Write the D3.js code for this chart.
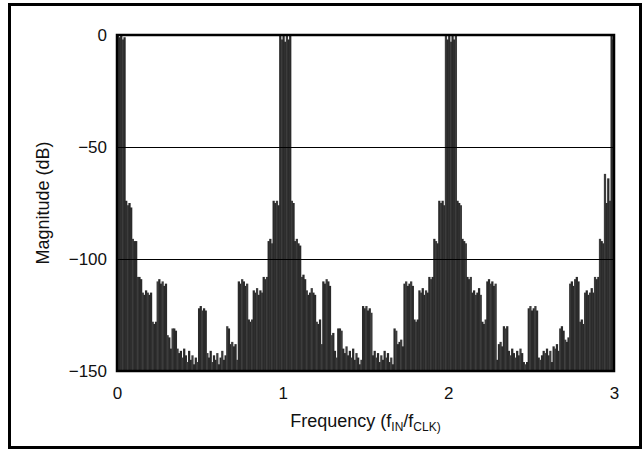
<!DOCTYPE html>
<html>
<head>
<meta charset="utf-8">
<script src="https://cdn.jsdelivr.net/npm/d3@7"></script>
<style>
  body { margin: 0; background: #fff; }
  text { font-family: "Liberation Sans", Arial, Helvetica, sans-serif; fill: #111; }
</style>
</head>
<body>
<div id="chart"></div>
<script>
var W = 642, H = 450;
var margin = {top: 35, right: 28, bottom: 79, left: 117}
  , width = 614 - margin.left
  , height = 371 - margin.top;

var freqStep = 0.01;
var magBand0 = [
  0, -1, 0, -2, -1, -74, -76, -75, -77, -91,
  -92, -92, -108, -108, -109, -115, -116, -114, -115, -116,
  -115, -128, -129, -128, -110, -109, -111, -110, -112, -111,
  -134, -135, -140, -131, -131, -132, -140, -142, -141, -144,
  -140, -143, -146, -141, -145, -143, -147, -144, -146, -122,
  -121, -123, -122, -123, -142, -144, -141, -146, -143, -145,
  -142, -147, -144, -141, -145, -143, -130, -131, -138, -137,
  -139, -138, -145, -110, -111, -109, -110, -112, -111, -127,
  -128, -127, -114, -115, -113, -116, -114, -115, -108, -109,
  -108, -92, -91, -93, -74, -75, -74, -76, 0, -2
];
var magBand1 = [
  0, -3, 0, -2, 0, -74, -75, -92, -91, -93,
  -94, -108, -107, -109, -114, -116, -115, -113, -115, -116,
  -128, -129, -127, -138, -110, -111, -109, -110, -112, -134,
  -133, -141, -144, -131, -131, -132, -140, -142, -139, -143,
  -141, -144, -140, -145, -142, -144, -147, -145, -121, -122,
  -121, -123, -122, -124, -143, -141, -144, -142, -146, -143,
  -145, -141, -144, -142, -146, -144, -147, -131, -132, -138,
  -137, -136, -139, -111, -110, -112, -111, -110, -112, -127,
  -128, -127, -114, -115, -113, -116, -114, -115, -108, -109,
  -108, -91, -92, -93, -74, -75, -74, -76, 0, -2
];
var magBand2 = [
  0, -3, 0, -2, 0, -74, -75, -76, -91, -92,
  -93, -108, -109, -108, -115, -114, -116, -115, -113, -116,
  -128, -129, -127, -110, -109, -111, -110, -112, -111, -145,
  -138, -137, -139, -130, -131, -130, -141, -143, -140, -142,
  -144, -141, -143, -140, -142, -146, -147, -146, -122, -121,
  -123, -122, -121, -123, -144, -145, -143, -141, -142, -140,
  -143, -141, -146, -139, -140, -138, -141, -131, -130, -132,
  -136, -137, -135, -111, -110, -112, -109, -108, -110, -128,
  -127, -129, -115, -114, -116, -115, -113, -115, -108, -109,
  -108, -91, -92, -93, -62, -75, -64, -74, 0, -2,
  0
];
var xTicks = [0, 1, 2, 3];
var yTicks = [0, -50, -100, -150];
var yGrid = [-50, -100];

var mags = magBand0.concat(magBand1, magBand2);
var data = mags.map(function(m, i) { return {f: i * freqStep, mag: m}; });

var xScale = d3.scaleLinear().domain([0, 3]).range([0, width]);
var yScale = d3.scaleLinear().domain([-150, 0]).range([height, 0]);

var svg = d3.select("#chart").append("svg")
    .attr("width", W)
    .attr("height", H);

// outer frame
svg.append("rect")
    .attr("x", 9.5).attr("y", 4.5)
    .attr("width", 631).attr("height", 443)
    .style("fill", "none").style("stroke", "#000").style("stroke-width", 3);

var g = svg.append("g")
    .attr("transform", "translate(" + margin.left + "," + margin.top + ")");

g.append("clipPath").attr("id", "plotclip")
  .append("rect").attr("x", 0).attr("y", 0).attr("width", width).attr("height", height);

// spectrum bars
var barW = xScale(freqStep) - xScale(0);
g.append("g").attr("clip-path", "url(#plotclip)")
  .selectAll("rect").data(data).enter().append("rect")
    .attr("x", function(d) { return xScale(d.f) - 0.2; })
    .attr("y", function(d) { return yScale(d.mag); })
    .attr("width", barW + 0.6)
    .attr("height", function(d) { return height - yScale(d.mag); })
    .style("fill", function(d, i) { return i % 3 ? "#2a2a2a" : "#3c3c3c"; });

// grid lines
g.selectAll(".grid").data(yGrid).enter().append("line")
    .attr("class", "grid")
    .attr("x1", 0).attr("x2", width)
    .attr("y1", function(d) { return yScale(d) + 0.5; })
    .attr("y2", function(d) { return yScale(d) + 0.5; })
    .style("stroke", "#000").style("stroke-width", 1)
    .style("shape-rendering", "crispEdges");

// plot frame
g.append("rect")
    .attr("x", 0).attr("y", 0).attr("width", width).attr("height", height)
    .style("fill", "none").style("stroke", "#000").style("stroke-width", 2.5);

// axes
var xAxis = g.append("g")
    .attr("transform", "translate(0," + height + ")")
    .call(d3.axisBottom(xScale).tickValues(xTicks).tickFormat(d3.format("d")).tickSize(0).tickPadding(16));
var yAxis = g.append("g")
    .call(d3.axisLeft(yScale).tickValues(yTicks).tickSize(0).tickPadding(10));
[xAxis, yAxis].forEach(function(a) {
  a.select(".domain").remove();
  a.selectAll("text").style("font-size", "17px")
    .style("font-family", "'Liberation Sans', Arial, sans-serif").attr("fill", "#111");
});

// axis titles
svg.append("text")
    .attr("text-anchor", "middle")
    .attr("transform", "translate(49," + (margin.top + height / 2) + ") rotate(-90)")
    .style("font-size", "18px")
    .text("Magnitude (dB)");

var xt = svg.append("text")
    .attr("text-anchor", "middle")
    .attr("x", margin.left + width / 2)
    .attr("y", 427)
    .style("font-size", "18px");
xt.append("tspan").text("Frequency (f");
xt.append("tspan").attr("dy", 4).style("font-size", "12px").text("IN");
xt.append("tspan").attr("dy", -4).text("/f");
xt.append("tspan").attr("dy", 4).style("font-size", "12px").text("CLK)");
</script>
</body>
</html>
